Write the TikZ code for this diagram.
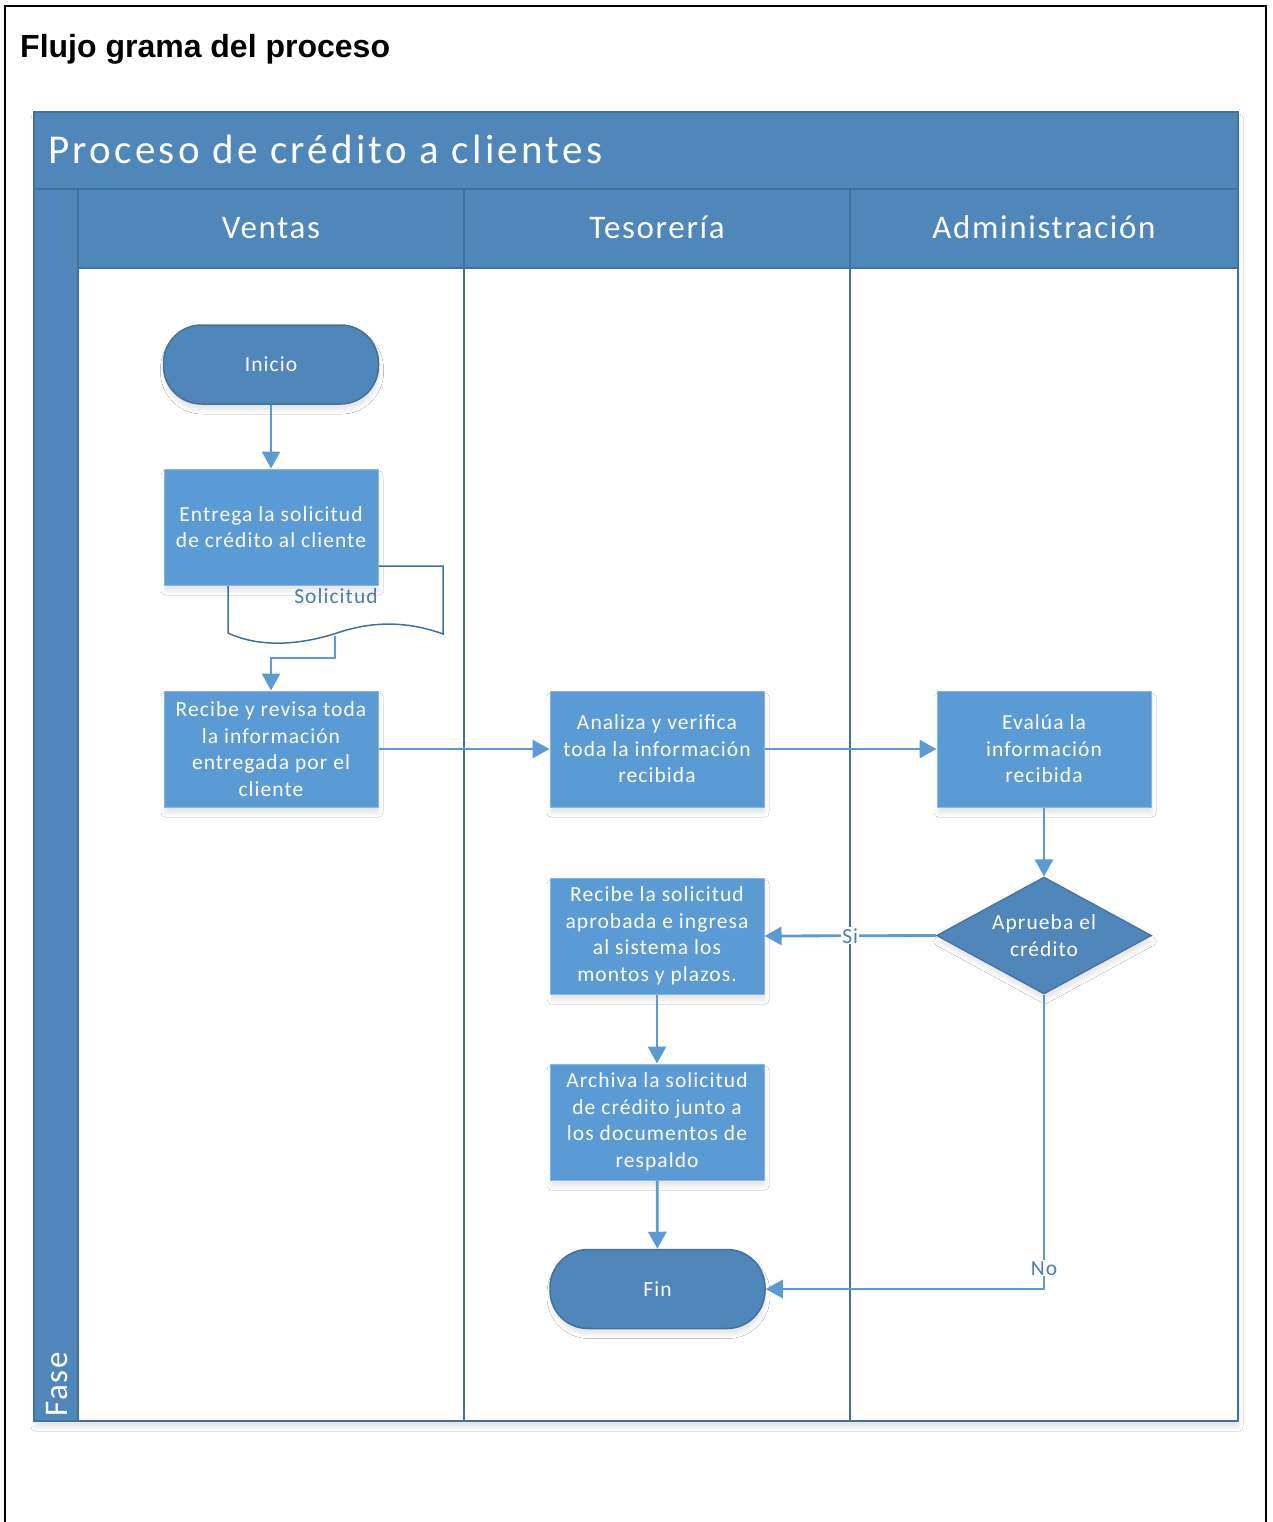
\documentclass[tikz,border=0pt]{standalone}
\usepackage{fontspec}
\setmainfont{Carlito}
\newfontfamily\arialf{Liberation Sans}
\newfontfamily\boxfont[LetterSpace=5]{Carlito}
\newfontfamily\hdrfont[LetterSpace=5]{Carlito}
\newfontfamily\titfont[LetterSpace=8]{Carlito}
\usetikzlibrary{arrows.meta,shapes.geometric,shadows.blur}
\definecolor{poolblue}{HTML}{4F87BB}
\definecolor{pooledge}{HTML}{41719C}
\definecolor{boxblue}{HTML}{5B9BD5}
\definecolor{boxedge}{HTML}{8DB6DE}
\definecolor{labelblue}{HTML}{4A7EBB}
\tikzset{
  shd/.style={blur shadow={shadow xshift=1pt, shadow yshift=-6pt, shadow blur radius=4pt, shadow opacity=10}},
  procbox/.style={rectangle, fill=boxblue, draw=boxedge, line width=1pt, shd,
    minimum width=214pt, minimum height=116pt, inner sep=0pt, align=center,
    text=white, font=\boxfont\fontsize{21.5}{26.5}\selectfont},
  terminal/.style={rectangle, rounded corners=38pt, fill=poolblue, draw=pooledge, line width=1.5pt, shd,
    minimum width=215pt, minimum height=79pt, inner sep=0pt, align=center,
    text=white, font=\boxfont\fontsize{21.5}{26.5}\selectfont},
  decision/.style={diamond, aspect=1.84, fill=poolblue, draw=pooledge, line width=1.2pt, shd,
    minimum width=215pt, minimum height=117pt, inner sep=0pt, align=center,
    text=white, font=\boxfont\fontsize{21.5}{26.5}\selectfont},
  lanehdr/.style={text=white, anchor=base, inner sep=0pt, font=\hdrfont\fontsize{33}{40}\selectfont},
  arr/.style={draw=boxblue, line width=2.8pt, -{Triangle[length=17pt,width=18pt]}},
  lbl/.style={fill=white, inner sep=1pt, text=labelblue, font=\boxfont\fontsize{21.5}{26.5}\selectfont},
  laneline/.style={draw=pooledge, line width=2pt},
}
\begin{document}
\begin{tikzpicture}[x=1pt,y=-1pt]
\useasboundingbox (0,0) rectangle (1273,1522);
\fill[white] (0,0) rectangle (1273,1522);
% outer frame
\draw[black, line width=2.2pt] (5,1530) -- (5,6) -- (1266,6) -- (1266,1530);
\node[anchor=base west, inner sep=0pt, font=\arialf\bfseries\fontsize{32}{36}\selectfont] (pagetitle) at (20,58) {Flujo grama del proceso};
% pool
\fill[white, shd] (34,112) rectangle (1238,1421);
\fill[poolblue] (34,112) rectangle (1238,268);
\fill[poolblue] (34,268) rectangle (78,1421);
\draw[laneline] (34,189) -- (1238,189);
\draw[laneline] (78,268) -- (1238,268);
\draw[laneline] (78,189) -- (78,1421);
\draw[laneline] (464,189) -- (464,1421);
\draw[laneline] (850,189) -- (850,1421);
\draw[pooledge, line width=2.5pt] (34,112) rectangle (1238,1421);
\node[anchor=base west, inner sep=0pt, text=white, font=\titfont\fontsize{41}{48}\selectfont] (pooltitle) at (48,164) {Proceso de crédito a clientes};
\node[lanehdr] (hv) at (271,239) {Ventas};
\node[lanehdr] (ht) at (657,239) {Tesorería};
\node[lanehdr] (ha) at (1044,239) {Administración};
\node[rotate=90, anchor=base west, inner sep=0pt, text=white, font=\hdrfont\fontsize{33}{40}\selectfont] (fase) at (67,1417) {Fase};
% document shape
\draw[fill=white, draw=pooledge, line width=1.5pt] (228,566) -- (443,566) -- (443,634)
  .. controls (410,622) and (375,620) .. (337,633)
  .. controls (300,645) and (260,648) .. (228,633) -- cycle;
\node[lbl, fill=none] (solic) at (336,596) {Solicitud};
\coordinate (docb) at (335,636);
% nodes
\node[terminal] (inicio) at (271,364.5) {Inicio};
\node[procbox] (entrega) at (271,527) {Entrega la solicitud\\de crédito al cliente};
\node[procbox] (recibe) at (271,749) {Recibe y revisa toda\\la información\\entregada por el\\cliente};
\node[procbox] (analiza) at (657,749) {Analiza y verifica\\toda la información\\recibida};
\node[procbox] (evalua) at (1044,749) {Evalúa la\\información\\recibida};
\node[decision] (aprueba) at (1044,935.5) {Aprueba el\\crédito};
\node[procbox] (recibe2) at (657,936) {Recibe la solicitud\\aprobada e ingresa\\al sistema los\\montos y plazos.};
\node[procbox] (archiva) at (657,1122) {Archiva la solicitud\\de crédito junto a\\los documentos de\\respaldo};
\node[terminal] (fin) at (657.5,1289) {Fin};
% connectors
\draw[arr] (inicio) -- (entrega);
\draw[arr] (docb) -- (335,658) -- (271,658) -- (recibe.north);
\draw[arr] (recibe) -- (analiza);
\draw[arr] (analiza) -- (evalua);
\draw[arr] (evalua) -- (aprueba.north);
\draw[arr] (aprueba.west) -- node[lbl, midway] {Si} (recibe2.east);
\draw[arr] (recibe2) -- (archiva);
\draw[arr] (archiva) -- (fin);
\draw[arr] (aprueba.south) -- node[lbl, pos=0.93] {No} (aprueba.south |- fin.east) -- (fin.east);
\end{tikzpicture}
\end{document}
